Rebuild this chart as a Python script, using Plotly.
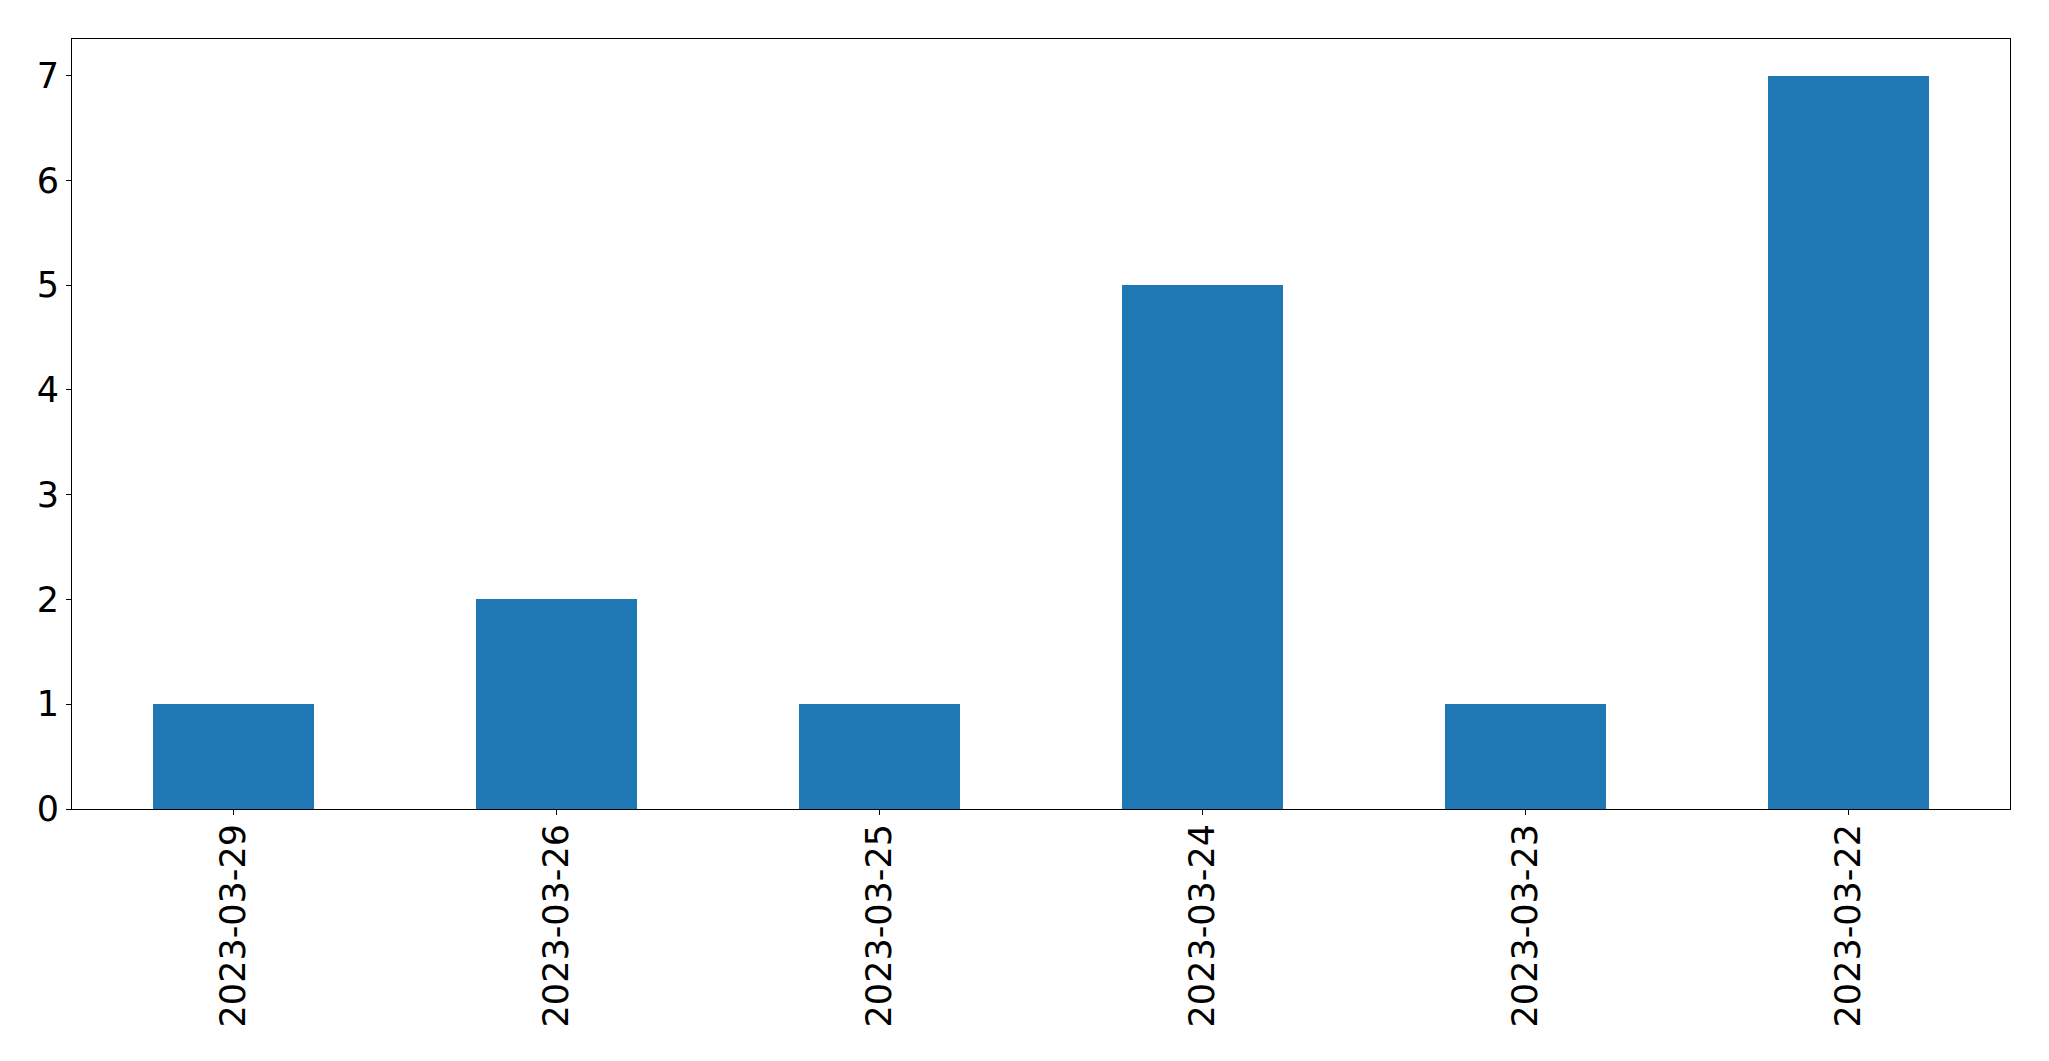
import plotly.graph_objects as go

categories = ["2023-03-29", "2023-03-26", "2023-03-25", "2023-03-24", "2023-03-23", "2023-03-22"]
values = [1, 2, 1, 5, 1, 7]
y_ticks = [0, 1, 2, 3, 4, 5, 6, 7]

W, H = 2049, 1061
L, R, T, B = 72, 39, 39, 252

fig = go.Figure()
fig.add_trace(go.Bar(
    x=list(range(len(categories))),
    y=values,
    width=0.5,
    marker=dict(color="#1f77b4", line=dict(width=0)),
    hoverinfo="skip",
))

font = dict(family="DejaVu Sans", size=35, color="black")

fig.update_layout(
    width=W, height=H,
    margin=dict(l=L, r=R, t=T, b=B, pad=0),
    paper_bgcolor="white",
    plot_bgcolor="white",
    showlegend=False,
    font=font,
    bargap=0,
)
fig.update_xaxes(
    range=[-0.5, len(categories) - 0.5],
    tickmode="array",
    tickvals=list(range(len(categories))),
    ticktext=categories,
    tickangle=-90,
    ticks="outside", ticklen=5, tickwidth=1, tickcolor="black",
    ticklabelstandoff=-5,
    showline=True, linecolor="black", linewidth=1, mirror=True,
    showgrid=False, zeroline=False,
    tickfont=font,
)
fig.update_yaxes(
    range=[0, 7.35],
    tickmode="array",
    tickvals=y_ticks,
    ticktext=[str(v) for v in y_ticks],
    ticks="outside", ticklen=5, tickwidth=1, tickcolor="black",
    showline=True, linecolor="black", linewidth=1, mirror=True,
    showgrid=False, zeroline=False,
    tickfont=font,
)

fig.write_html(
    "out.html",
    config={"displayModeBar": False},
    post_script="document.body.style.margin='0';document.body.style.overflow='hidden';",
)
